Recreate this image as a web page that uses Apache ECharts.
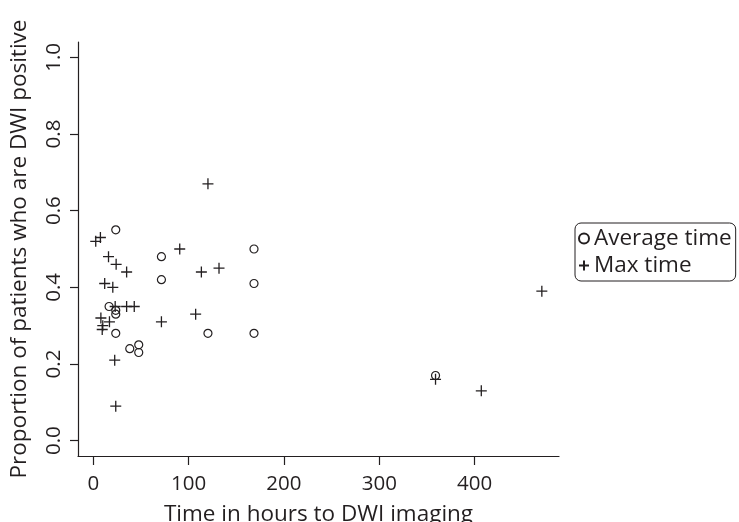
<!DOCTYPE html>
<html>
<head>
<meta charset="utf-8">
<script src="https://cdn.jsdelivr.net/npm/echarts@6/dist/echarts.min.js"></script>
<style>html,body{margin:0;padding:0;background:#fff}#c{width:739px;height:522px}</style>
</head>
<body>
<div id="c"></div>
<script>
// Average time (circles): [hours, proportion]
const averageTime = [
  [23.6, 0.55], [16.6, 0.35], [23.6, 0.34], [23.6, 0.33], [23.6, 0.28],
  [38.3, 0.24], [47.7, 0.25], [47.7, 0.23], [71.5, 0.48], [71.5, 0.42],
  [120.3, 0.28], [168.6, 0.50], [168.6, 0.41], [168.6, 0.28], [359, 0.17]
];
// Max time (pluses): [hours, proportion]
const maxTime = [
  [2.6, 0.52], [7.5, 0.53], [16, 0.48], [24, 0.46], [35, 0.44],
  [12, 0.41], [20.5, 0.40], [23, 0.35], [35, 0.35], [43, 0.35],
  [8, 0.32], [17, 0.31], [10, 0.30], [9.4, 0.29], [22.5, 0.21],
  [23.6, 0.09], [71.5, 0.31], [90.7, 0.50], [120.3, 0.67], [113.4, 0.44],
  [131.9, 0.45], [107.4, 0.33], [359, 0.16], [407, 0.13], [470.5, 0.39]
];
const xTicks = [0, 100, 200, 300, 400];
const yTicks = [0, 0.2, 0.4, 0.6, 0.8, 1.0];
const seriesNames = ['Average time', 'Max time'];
const xTitle = 'Time in hours to DWI imaging';
const yTitle = 'Proportion of patients who are DWI positive';

const INK = '#231f20';
const FONT = 'Open Sans';
const chart = echarts.init(document.getElementById('c'), null, {renderer: 'canvas'});
chart.setOption({
  animation: false,
  backgroundColor: '#fff',
  grid: {left: 78, top: 42, width: 481, height: 414, containLabel: false, outerBoundsMode: 'none'},
  legend: {
    orient: 'vertical', left: 575, top: 223,
    data: seriesNames,
    itemWidth: 10, itemHeight: 10, itemGap: 4,
    padding: [4, 4, 4, 3],
    borderColor: INK, borderWidth: 1, borderRadius: 6,
    textStyle: {fontFamily: FONT, fontSize: 22.5, color: INK, lineHeight: 22}
  },
  xAxis: {
    type: 'value', min: -16, max: 488.5,
    name: xTitle, nameLocation: 'middle', nameGap: 47,
    nameTextStyle: {fontFamily: FONT, fontSize: 22.5, color: INK},
    axisLine: {show: true, onZero: false, lineStyle: {color: INK, width: 1.2}},
    axisTick: {show: true, length: 9, inside: false, customValues: xTicks, lineStyle: {color: INK, width: 1.2}},
    axisLabel: {customValues: xTicks, margin: 18, fontFamily: FONT, fontSize: 20.5, color: INK},
    splitLine: {show: false}
  },
  yAxis: {
    type: 'value', min: -0.04, max: 1.04,
    name: yTitle, nameLocation: 'middle', nameRotate: 90, nameGap: 47,
    nameTextStyle: {fontFamily: FONT, fontSize: 22.5, color: INK},
    axisLine: {show: true, onZero: false, lineStyle: {color: INK, width: 1.2}},
    axisTick: {show: true, length: 8, inside: false, customValues: yTicks, lineStyle: {color: INK, width: 1.2}},
    axisLabel: {customValues: yTicks, rotate: 90, margin: 13, fontFamily: FONT, fontSize: 20.5, color: INK,
      formatter: v => v.toFixed(1)},
    splitLine: {show: false}
  },
  series: [
    {
      name: seriesNames[0], type: 'scatter', data: averageTime,
      symbol: 'circle', symbolSize: 8,
      itemStyle: {color: 'rgba(0,0,0,0)', borderColor: INK, borderWidth: 1.2, opacity: 1}
    },
    {
      name: seriesNames[1], type: 'scatter', data: maxTime,
      symbol: 'path://M0,5L10,5M5,0L5,10', symbolSize: 11,
      itemStyle: {color: 'rgba(0,0,0,0)', borderColor: INK, borderWidth: 1.3, opacity: 1}
    }
  ]
});
</script>
</body>
</html>
